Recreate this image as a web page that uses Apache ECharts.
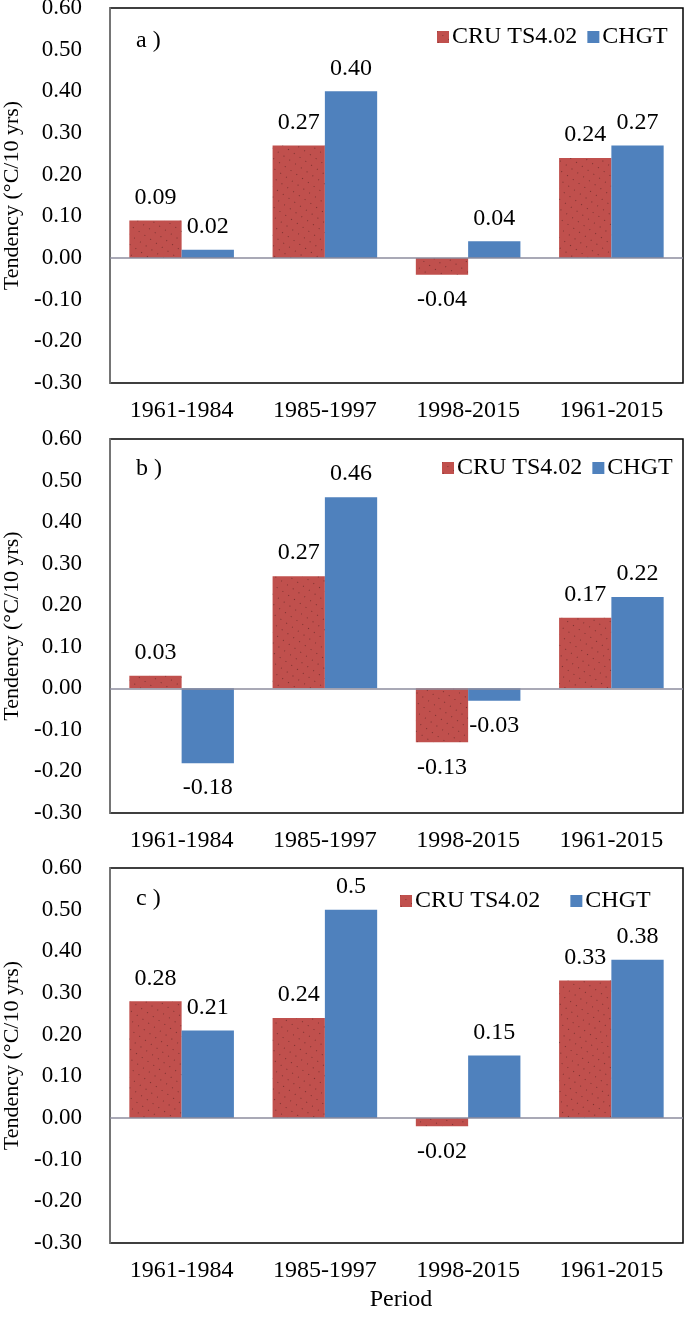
<!DOCTYPE html>
<html>
<head>
<meta charset="utf-8">
<script src="https://cdn.jsdelivr.net/npm/echarts@6/dist/echarts.min.js"></script>
<style>
html,body{margin:0;padding:0;background:#fff;}
#chart{width:685px;height:1317px;}
</style>
</head>
<body>
<div id="chart"></div>
<script>
const categories = ['1961-1984', '1985-1997', '1998-2015', '1961-2015'];
const yTicks = [-0.3, 0.6, 0.1];
const cruA = [0.09, 0.27, -0.04, 0.24];
const chgtA = [0.02, 0.40, 0.04, 0.27];
const cruB = [0.03, 0.27, -0.13, 0.17];
const chgtB = [-0.18, 0.46, -0.03, 0.22];
const cruC = [0.28, 0.24, -0.02, 0.33];
const chgtC = [0.21, 0.50, 0.15, 0.38];
const chgtCLabels = ['0.21', '0.5', '0.15', '0.38'];
const panelNames = ['a )', 'b )', 'c )'];
const seriesNames = ['CRU TS4.02', 'CHGT'];

const FONT = 'Liberation Serif';
const RED = '#C0504D';
const BLUE = '#4F81BD';
const FS = 24;

const grids = [
  {left: 110, right: 2, top: 8, height: 375},
  {left: 110, right: 2, top: 439, height: 374},
  {left: 110, right: 2, top: 868, height: 375}
];
const legendPos = [
  {left: 437, top: 25, itemGap: 10},
  {left: 442, top: 456, itemGap: 10},
  {left: 400, top: 889, itemGap: 30}
];
const panelTitleTop = [24, 452, 882];

const panels = [
  [cruA, chgtA, null],
  [cruB, chgtB, null],
  [cruC, chgtC, chgtCLabels]
];

function mkData(vals, labels) {
  return vals.map((v, i) => ({
    value: v,
    label: {
      position: v < 0 ? 'bottom' : 'top',
      distance: v < 0 ? 13 : 11,
      formatter: labels ? labels[i] : v.toFixed(2)
    }
  }));
}

const redDecal = {
  symbol: 'rect',
  symbolSize: 1,
  color: 'rgba(40,10,10,0.45)',
  dashArrayX: [1, 6],
  dashArrayY: [1, 7],
  rotation: 0.6
};

const series = [];
panels.forEach((p, i) => {
  series.push({
    name: seriesNames[0], type: 'bar', xAxisIndex: i, yAxisIndex: i,
    data: mkData(p[0], null),
    barGap: '0%', barCategoryGap: '27%',
    itemStyle: {color: RED, decal: redDecal},
    label: {show: true, color: '#000', fontFamily: FONT, fontSize: FS},
    markLine: {
      silent: true, symbol: 'none', animation: false,
      label: {show: false},
      lineStyle: {color: '#8D8D9E', width: 1.5, type: 'solid'},
      data: [{yAxis: 0}]
    },
    emphasis: {disabled: true}
  });
  series.push({
    name: seriesNames[1], type: 'bar', xAxisIndex: i, yAxisIndex: i,
    data: mkData(p[1], p[2]),
    barGap: '0%', barCategoryGap: '27%',
    itemStyle: {color: BLUE},
    label: {show: true, color: '#000', fontFamily: FONT, fontSize: FS},
    emphasis: {disabled: true}
  });
});

const option = {
  animation: false,
  backgroundColor: '#fff',
  textStyle: {fontFamily: FONT},
  title: panelNames.map((t, i) => ({
    text: t, left: 131, top: panelTitleTop[i],
    textStyle: {fontFamily: FONT, fontSize: FS, fontWeight: 'normal', color: '#000'}
  })).concat([{
    text: 'Period', left: 396, top: 1283, textAlign: 'center',
    textStyle: {fontFamily: FONT, fontSize: 24, fontWeight: 'normal', color: '#000'}
  }]),
  legend: legendPos.map(l => ({
    data: seriesNames, left: l.left, top: l.top, itemGap: l.itemGap,
    itemWidth: 12, itemHeight: 12, icon: 'rect', padding: 0,
    textStyle: {fontFamily: FONT, fontSize: FS, color: '#000', padding: [0, 0, 0, -2]},
    selectedMode: false
  })),
  grid: grids.map(g => Object.assign({show: true, borderColor: '#000', borderWidth: 1.5,
    backgroundColor: '#fff', containLabel: false, outerBoundsMode: 'none'}, g)),
  xAxis: grids.map((g, i) => ({
    type: 'category', gridIndex: i, data: categories,
    axisLine: {show: false}, axisTick: {show: false},
    axisLabel: {color: '#000', fontFamily: FONT, fontSize: FS, margin: 16}
  })),
  yAxis: grids.map((g, i) => ({
    type: 'value', gridIndex: i, min: yTicks[0], max: yTicks[1], interval: yTicks[2],
    name: 'Tendency (°C/10 yrs)', nameLocation: 'middle', nameGap: 86, nameRotate: 90,
    nameTextStyle: {fontFamily: FONT, fontSize: 22, color: '#000'},
    splitLine: {show: false}, axisTick: {show: false},
    axisLine: {show: true, onZero: false, lineStyle: {color: '#888', width: 1.5}},
    axisLabel: {color: '#000', fontFamily: FONT, fontSize: 23, margin: 28,
      formatter: v => v.toFixed(2)}
  })),
  series: series
};

const chart = echarts.init(document.getElementById('chart'));
chart.setOption(option);
</script>
</body>
</html>
